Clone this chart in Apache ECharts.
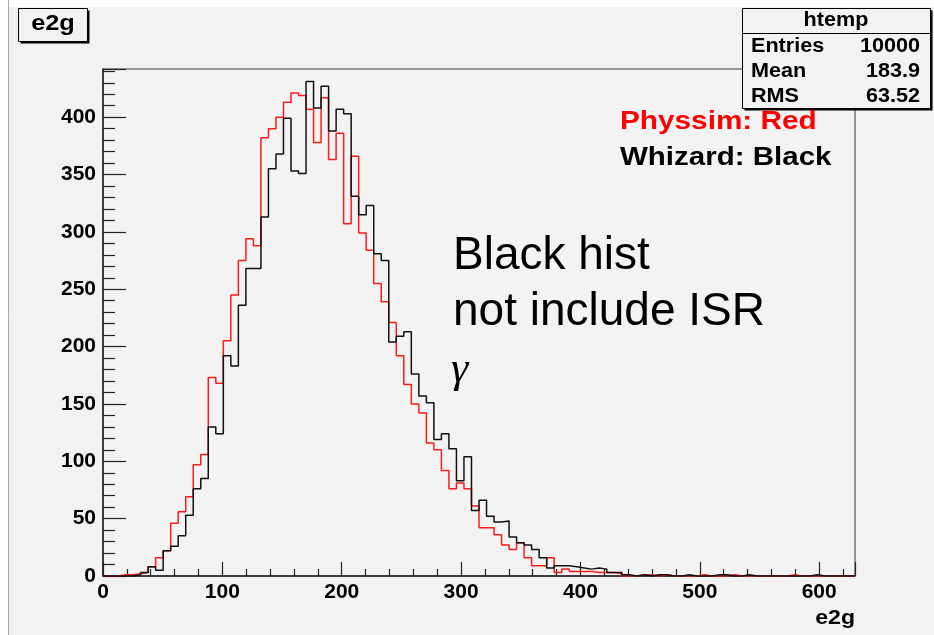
<!DOCTYPE html>
<html>
<head>
<meta charset="utf-8">
<script src="https://cdn.jsdelivr.net/npm/echarts@6/dist/echarts.min.js"></script>
<style>
  html, body { margin: 0; padding: 0; background: #ffffff; }
  #chart { width: 934px; height: 635px; }
</style>
</head>
<body>
<div id="chart"></div>
<script>
// ---- data ----
const binWidth = 6.3;          // 100 bins over 0..630
const xRange = [0, 630];
const yRange = [0, 442];
const xTickStep = 100;
const yTickStep = 50;

// Physsim (red) bin contents
const physsimCounts = [
  0, 0, 1, 1, 2, 3, 8, 16, 22, 46,
  56, 69, 97, 106, 173, 168, 205, 245, 275, 294,
  288, 382, 390, 400, 413, 421, 419, 407, 378, 417,
  363, 386, 307, 366, 299, 284, 255, 239, 221, 192,
  167, 150, 142, 116, 110, 92, 76, 81, 76, 61,
  42, 42, 36, 27, 23, 29, 16, 9, 9, 16,
  3, 6, 4, 4, 4, 3, 3, 3, 2, 0,
  0, 1, 1, 0, 1, 0, 0, 0, 0, 1,
  0, 0, 0, 1, 0, 0, 0, 0, 0, 0,
  0, 1, 0, 0, 0, 0, 0, 0, 0, 0
];

// Whizard (black) bin contents
const whizardCounts = [
  0, 0, 0, 0, 1, 3, 8, 5, 22, 26,
  35, 53, 76, 85, 130, 124, 192, 183, 236, 268,
  268, 313, 355, 368, 399, 353, 351, 431, 408, 427,
  388, 407, 403, 331, 315, 323, 281, 275, 204, 209,
  213, 176, 157, 151, 119, 124, 111, 83, 104, 57,
  66, 52, 47, 48, 34, 29, 27, 23, 16, 7,
  9, 9, 8, 7, 6, 7, 6, 3, 3, 1,
  0, 1, 0, 1, 1, 0, 0, 1, 0, 0,
  0, 1, 1, 0, 0, 1, 0, 0, 0, 0,
  0, 0, 0, 0, 1, 0, 0, 0, 0, 0
];

const histTitle = 'e2g';
const axisTitleX = 'e2g';
const statsTitle = 'htemp';
const statsLabels = ['Entries', 'Mean', 'RMS'];
const statsValues = ['10000', '183.9', '63.52'];
const legendLines = ['Physsim: Red', 'Whizard: Black'];
const noteLines = ['Black hist', 'not include ISR', 'γ'];

// ---- build step outlines from bins ----
function toSteps(counts) {
  const pts = counts.map((c, i) => [+(i * binWidth).toFixed(3), c]);
  pts.push([+(counts.length * binWidth).toFixed(3), counts[counts.length - 1]]);
  return pts;
}

const FONT = 'Liberation Sans, Arial, Helvetica, sans-serif';
const chart = echarts.init(document.getElementById('chart'), null, { renderer: 'canvas' });

function boldText(text, x, y, size, color, align, sx) {
  return {
    type: 'text', x: x, y: y, scaleX: sx || 1, z: 20,
    style: {
      text: text, x: 0, y: 0, fill: color,
      font: 'bold ' + size + 'px ' + FONT,
      align: align, verticalAlign: 'middle'
    }
  };
}

const graphics = [
  // pad background
  { type: 'rect', z: -10, silent: true, shape: { x: 9, y: 7, width: 925, height: 628 }, style: { fill: '#f2f2f2' } },
  { type: 'line', z: -9, silent: true, shape: { x1: 8.5, y1: 0, x2: 8.5, y2: 635 }, style: { stroke: '#a8a8a8', lineWidth: 1 } },
  // title box
  { type: 'rect', z: 10, shape: { x: 20.5, y: 10.5, width: 69, height: 33 }, style: { fill: '#000' } },
  { type: 'rect', z: 11, shape: { x: 18.5, y: 8.5, width: 69, height: 33 }, style: { fill: '#f2f2f2', stroke: '#000', lineWidth: 1 } },
  boldText(histTitle, 53, 24, 22, '#000', 'center', 1.15),
  // stats box
  { type: 'rect', z: 10, shape: { x: 744.5, y: 10.5, width: 188, height: 100 }, style: { fill: '#000' } },
  { type: 'rect', z: 11, shape: { x: 742.5, y: 8.5, width: 188, height: 100 }, style: { fill: '#f2f2f2', stroke: '#000', lineWidth: 1 } },
  { type: 'line', z: 12, shape: { x1: 742.5, y1: 33.5, x2: 930.5, y2: 33.5 }, style: { stroke: '#000', lineWidth: 1 } },
  boldText(statsTitle, 836, 20, 20, '#000', 'center', 1.08)
];
statsLabels.forEach((lab, i) => {
  graphics.push(boldText(lab, 751, 46 + i * 25, 20, '#000', 'left', 1.08));
  graphics.push(boldText(statsValues[i], 920, 46 + i * 25, 20, '#000', 'right', 1.08));
});
// legend-like texts
graphics.push(boldText(legendLines[0], 620, 122, 25, '#ff0000', 'left', 1.19));
graphics.push(boldText(legendLines[1], 620, 158, 25, '#000000', 'left', 1.18));
// annotation
[0, 1].forEach(i => {
  graphics.push({
    type: 'text', x: 453, y: 256 + i * 56.5, z: 20,
    style: { text: noteLines[i], x: 0, y: 0, fill: '#000', font: '46px ' + FONT, align: 'left', verticalAlign: 'middle' }
  });
});
graphics.push({
  type: 'text', x: 451, y: 370, z: 20,
  style: { text: noteLines[2], x: 0, y: 0, fill: '#000', font: 'italic 44px Liberation Serif, DejaVu Serif, Times New Roman, serif', align: 'left', verticalAlign: 'middle' }
});
// x axis title
graphics.push(boldText(axisTitleX, 855, 618, 21, '#000', 'right', 1.1));

const option = {
  animation: false,
  backgroundColor: '#ffffff',
  grid: {
    left: 103, right: 79, top: 69, bottom: 59,
    show: true, backgroundColor: '#f3f3f3', borderColor: '#3a3a3a', borderWidth: 1,
    containLabel: false, outerBoundsMode: 'none'
  },
  xAxis: {
    type: 'value', min: xRange[0], max: xRange[1], interval: xTickStep,
    axisLine: { show: true, onZero: false, lineStyle: { color: '#222', width: 1.5 } },
    axisTick: { show: true, inside: true, length: 14, lineStyle: { color: '#222', width: 1.2 } },
    minorTick: { show: true, splitNumber: 5, length: 7, lineStyle: { color: '#222', width: 1.2 } },
    axisLabel: { show: true, margin: 6, color: '#000', fontSize: 21, fontWeight: 'bold', fontFamily: FONT, showMaxLabel: false },
    splitLine: { show: false }
  },
  yAxis: {
    type: 'value', min: yRange[0], max: yRange[1], interval: yTickStep,
    axisLine: { show: true, onZero: false, lineStyle: { color: '#222', width: 1.5 } },
    axisTick: { show: true, inside: true, length: 23, lineStyle: { color: '#222', width: 1.2 } },
    minorTick: { show: true, splitNumber: 5, length: 12, lineStyle: { color: '#222', width: 1.2 } },
    axisLabel: { show: true, margin: 7, color: '#000', fontSize: 21, fontWeight: 'bold', fontFamily: FONT, showMaxLabel: false },
    splitLine: { show: false }
  },
  series: [
    {
      name: 'Whizard', type: 'line', step: 'end', data: toSteps(whizardCounts),
      showSymbol: false, symbol: 'none', z: 3,
      lineStyle: { color: '#111111', width: 1.5 }
    },
    {
      name: 'Physsim', type: 'line', step: 'end', data: toSteps(physsimCounts),
      showSymbol: false, symbol: 'none', z: 2,
      lineStyle: { color: '#ff1a1a', width: 1.5 }
    }
  ],
  graphic: graphics
};
chart.setOption(option);
</script>
</body>
</html>
